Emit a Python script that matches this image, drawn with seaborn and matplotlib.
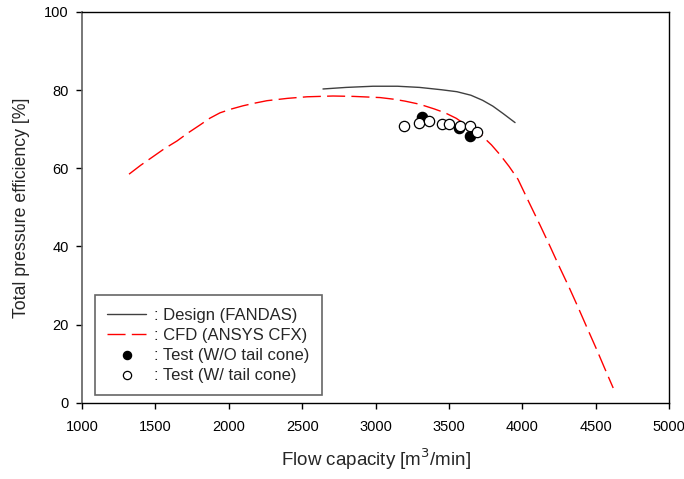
import numpy as np
import pandas as pd
import matplotlib
matplotlib.use("Agg")
import matplotlib.pyplot as plt
import seaborn as sns

# design curve (FANDAS)
design_q = [2642, 2800, 2983, 3150, 3300, 3450, 3555, 3650, 3730, 3800, 3870, 3951]
design_eff = [80.3, 80.7, 81.0, 81.0, 80.7, 80.1, 79.6, 78.7, 77.4, 75.9, 74.0, 71.7]

# CFD curve (ANSYS CFX)
cfd_q = [1320, 1400, 1484, 1560, 1647, 1720, 1804, 1870, 1940, 2020, 2097, 2180,
         2260, 2400, 2533, 2710, 2850, 3031, 3120, 3200, 3300, 3400, 3474, 3550,
         3620, 3712, 3790, 3848, 3910, 3971, 4050, 4121, 4190, 4257, 4320, 4380,
         4450, 4509, 4560, 4620]
cfd_eff = [58.5, 60.8, 63.0, 65.0, 67.0, 69.0, 71.1, 72.8, 74.2, 75.2, 76.0, 76.7,
           77.3, 77.9, 78.3, 78.5, 78.4, 78.1, 77.7, 77.2, 76.4, 75.2, 74.2, 72.8,
           71.0, 68.8, 66.0, 63.5, 60.5, 57.2, 51.0, 45.5, 40.0, 34.5, 29.5, 24.5,
           18.5, 13.5, 9.0, 3.8]

# test data
test_wo_q = [3316, 3569, 3644]
test_wo_eff = [73.2, 70.2, 68.3]
test_w_q = [3194, 3296, 3365, 3451, 3500, 3576, 3644, 3692]
test_w_eff = [70.8, 71.7, 72.2, 71.3, 71.3, 70.7, 70.7, 69.4]

sns.set_style("white")
plt.rcParams['font.family'] = ['Liberation Sans', 'DejaVu Sans']

fig, ax = plt.subplots(figsize=(6.84, 4.79), dpi=100)
fig.subplots_adjust(left=0.12, right=0.978, top=0.975, bottom=0.159)

sns.lineplot(x=design_q, y=design_eff, ax=ax, color="#404040", lw=1.0,
             label=": Design (FANDAS)", sort=False)
sns.lineplot(x=cfd_q, y=cfd_eff, ax=ax, color="red", lw=1.0,
             label=": CFD (ANSYS CFX)", sort=False)
ax.lines[-1].set_dashes([13, 4.5])
sns.scatterplot(x=test_wo_q, y=test_wo_eff, ax=ax, color="black", edgecolor="black",
                s=55, linewidth=0.9, label=": Test (W/O tail cone)", zorder=5)
sns.scatterplot(x=test_w_q, y=test_w_eff, ax=ax, facecolor="white", edgecolor="black",
                s=55, linewidth=0.9, label=": Test (W/ tail cone)", zorder=6)

ax.set_xlim(1000, 5000)
ax.set_ylim(0, 100)
ax.set_xticks(np.arange(1000, 5001, 500))
ax.set_yticks(np.arange(0, 101, 20))
ax.tick_params(direction="out", length=4.5, width=1, labelsize=10.5, colors="black",
               bottom=True, left=True)
ax.tick_params(axis="x", pad=8)
ax.tick_params(axis="y", pad=5)
for side in ["top", "right", "bottom"]:
    ax.spines[side].set_color("black")
    ax.spines[side].set_linewidth(1.0)
ax.spines["left"].set_color("#606060")
ax.spines["left"].set_linewidth(1.2)

ax.set_xlabel("Flow capacity [m$^3$/min]", fontsize=13.5, labelpad=9)
ax.set_ylabel("Total pressure efficiency [%]", fontsize=12.8, labelpad=10)

leg = ax.legend(loc="lower left", bbox_to_anchor=(0.022, 0.02), borderaxespad=0,
                fontsize=12, frameon=True, fancybox=False, edgecolor="#404040",
                handlelength=2.3, handletextpad=0.5, borderpad=0.75,
                labelspacing=0.3, markerscale=0.8)
leg.get_frame().set_linewidth(1.2)

fig.savefig("out.png", dpi=100)
